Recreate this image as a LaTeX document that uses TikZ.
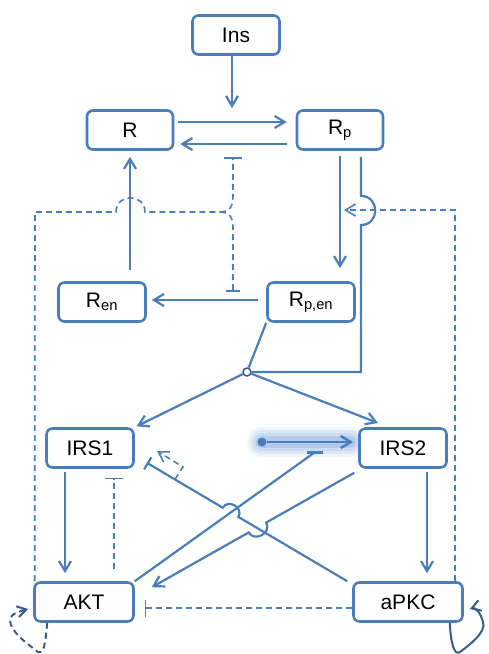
\documentclass[tikz,border=0pt]{standalone}
\usepackage{fontspec}
\setmainfont{Liberation Sans}
\usetikzlibrary{arrows.meta}
\usetikzlibrary{calc}

\definecolor{netblue}{RGB}{74,126,187}
\definecolor{loopblue}{RGB}{56,92,142}
\definecolor{glowblue}{RGB}{96,146,214}

\tikzset{
  box/.style={draw=netblue, fill=white, line width=2.6pt, rounded corners=6pt,
    minimum height=39pt, inner sep=0pt, font=\fontsize{21}{24}\selectfont},
  link/.style={draw=netblue, line width=2.2pt},
  act/.style={link, -{Straight Barb[length=10pt,width=12pt]}},
  inh/.style={link, -{Bar[width=14pt]}},
  dashline/.style={draw=netblue, line width=1.6pt, dash pattern=on 6pt off 4pt},
  dashact/.style={dashline, -{Straight Barb[length=10pt,width=12pt]}},
  loopline/.style={draw=loopblue, line width=2pt, -{Straight Barb[length=9pt,width=11pt]}}
}

\begin{document}
\begin{tikzpicture}[x=1pt, y=-1pt]
      \useasboundingbox (0,0) rectangle (488,654);

      %% Highlighted input (glow first, under everything)
      \coordinate (glowA) at (262,442);
      \foreach \lw/\op in {30/0.10, 24/0.12, 18/0.15, 12/0.22}
      {%
        \draw[glowblue, line width=\lw pt, opacity=\op, line cap=round] (glowA) -- (350,442);
      }

      %% Species
      \foreach \nm/\xy/\lab/\w in {ins/{236,35}/Ins/87, rec/{130,130}/R/86,
          recp/{340,130}/{R\textsubscript{p}}/86, recen/{102,302}/{R\textsubscript{en}}/87,
          recpen/{311,302}/{R\textsubscript{p,en}}/87, irs1/{90,448}/IRS1/87,
          irs2/{403,448}/IRS2/87, akt/{84,602}/AKT/99, apkc/{408,602}/aPKC/109}
      {%
        \node[box, minimum width=\w pt] (\nm) at (\xy) {\lab};
      }
      \node[circle, draw=loopblue, fill=white, line width=1.5pt, inner sep=0pt,
        minimum size=8pt] (hub) at (247,372) {};

      %% Receptor cycle
      \coordinate (bind) at (232,108);
      \draw[act] ([xshift=-4pt]ins.south) -- (bind);
      \draw[act, shorten <=4pt, shorten >=9pt] ([yshift=8pt]rec.east) -- ([yshift=8pt]recp.west);
      \draw[act, shorten <=9pt, shorten >=6pt] ([yshift=-14pt]recp.west) -- ([yshift=-14pt]rec.east);
      \draw[act, shorten <=5pt, shorten >=13pt] (recp.south) -- (recp.south |- recpen.north);
      \draw[act, shorten <=8pt, shorten >=5pt] ([yshift=2pt]recpen.west) -- ([yshift=2pt]recpen.west -| recen.east);
      \draw[act, shorten <=11pt, shorten >=6pt] (rec.south |- recen.north) -- (rec.south);

      %% To the hub (with a hop over the dashed line)
      \coordinate (hopT) at (361,196);
      \coordinate (hopB) at (361,225);
      \coordinate (rpC) at (361,372);
      \draw[link] ([xshift=21pt,yshift=-6pt]recp.south) -- (hopT)
        .. controls (380,196) and (380,225) .. (hopB) -- (rpC) -- (hub);
      \draw[link] (recpen.south west) -- (hub);
      \coordinate (irs2in) at (378,423);
      \draw[act, shorten >=2pt] (hub) -- (irs1.north east);
      \draw[act] (hub) -- (irs2in);

      %% AKT feedback on the receptor (dashed)
      \coordinate (fbL) at (35,212);
      \coordinate (split) at (220,212);
      \coordinate (inhT) at (233,157);
      \coordinate (inhB) at (233,292);
      \draw[dashline] ([xshift=1.5pt]akt.north west) -- (fbL) -- (116,212)
        .. controls (116,193) and (145,193) .. (145,212) -- (split);
      \draw[dashline, -{Bar[width=18pt]}] (split) .. controls (230,212) and (233,206) .. (233,196) -- (inhT);
      \draw[dashline, -{Bar[width=14pt]}] (split) .. controls (230,212) and (233,218) .. (233,228) -- (inhB);

      %% aPKC feedback on internalisation (dashed)
      \coordinate (fbR) at (455,210);
      \coordinate (intz) at (344,210);
      \draw[dashact] ([xshift=47pt]apkc.north) -- (fbR) -- (intz);

      %% IRS - AKT - aPKC
      \draw[act, shorten <=3pt, shorten >=8pt] ([xshift=-25pt]irs1.south) -- ([xshift=-25pt]irs1.south |- akt.north);
      \draw[act, shorten <=3pt, shorten >=8pt] ([xshift=24pt]irs2.south) -- ([xshift=24pt]irs2.south |- apkc.north);
      \draw[dashline, -{Bar[width=18pt]}, shorten <=12pt, shorten >=9pt]
        ([xshift=30pt]akt.north) -- ([xshift=30pt]akt.north |- irs1.south);
      \draw[dashline, -{Bar[width=17pt]}, shorten >=10pt]
        ([yshift=-6pt]apkc.west) -- ([yshift=-6pt]apkc.west -| akt.east);

      %% Crossing links
      \coordinate (pkcS) at ([xshift=-5pt]apkc.north west);
      \coordinate (irs1T) at ([xshift=12pt,yshift=6pt]irs1.south east);
      \coordinate (irs2S) at ([xshift=-4pt,yshift=-4pt]irs2.south west);
      \coordinate (aktT) at ([xshift=17pt,yshift=-6pt]akt.north east);
      \coordinate (irs2Bar) at ([xshift=-43pt,yshift=-4pt]irs2.west);
      \draw[link] (akt.north east) -- (irs2Bar);
      \draw[netblue, line width=3pt] ([xshift=-8pt]irs2Bar) -- ([xshift=8pt]irs2Bar);
      \draw[inh] (pkcS) -- ($(pkcS)!0.543!(irs1T)$)
        to[bend right=90, looseness=1.5] ($(pkcS)!0.621!(irs1T)$) -- (irs1T);
      \draw[act] (irs2S) -- ($(irs2S)!0.435!(aktT)$)
        to[bend left=90, looseness=1.5] ($(irs2S)!0.521!(aktT)$) -- (aktT);
      \coordinate (brA) at ($(pkcS)!0.86!(irs1T)$);
      \coordinate (brB) at (183,467);
      \coordinate (irs1A) at (157,451);
      \draw[dashact] (brA) -- (brB) -- (irs1A);

      %% Highlighted input arrow
      \node[circle, fill=netblue, inner sep=0pt, minimum size=9pt] (src) at (glowA) {};
      \draw[act, line width=2.5pt, shorten >=5pt] (src) -- (src -| irs2.west);

      %% Self loops
      \draw[loopline, dash pattern=on 6pt off 4pt] ([xshift=14pt]akt.south west)
        .. controls +(-2,22) and +(6,2) .. (38,652)
        .. controls +(-10,-8) and +(0,12) .. (10,620)
        .. controls +(0,-6) and +(-8,2) .. ([xshift=-5pt,yshift=-7pt]akt.west);
      \draw[loopline] ([xshift=-14pt]apkc.south east)
        .. controls +(1,20) and +(-6,4) .. (460,652)
        .. controls +(8,-6) and +(4,10) .. (483,622)
        .. controls +(-2,-8) and +(6,-2) .. ([xshift=6pt,yshift=-7pt]apkc.east);

    \end{tikzpicture}
\end{document}
